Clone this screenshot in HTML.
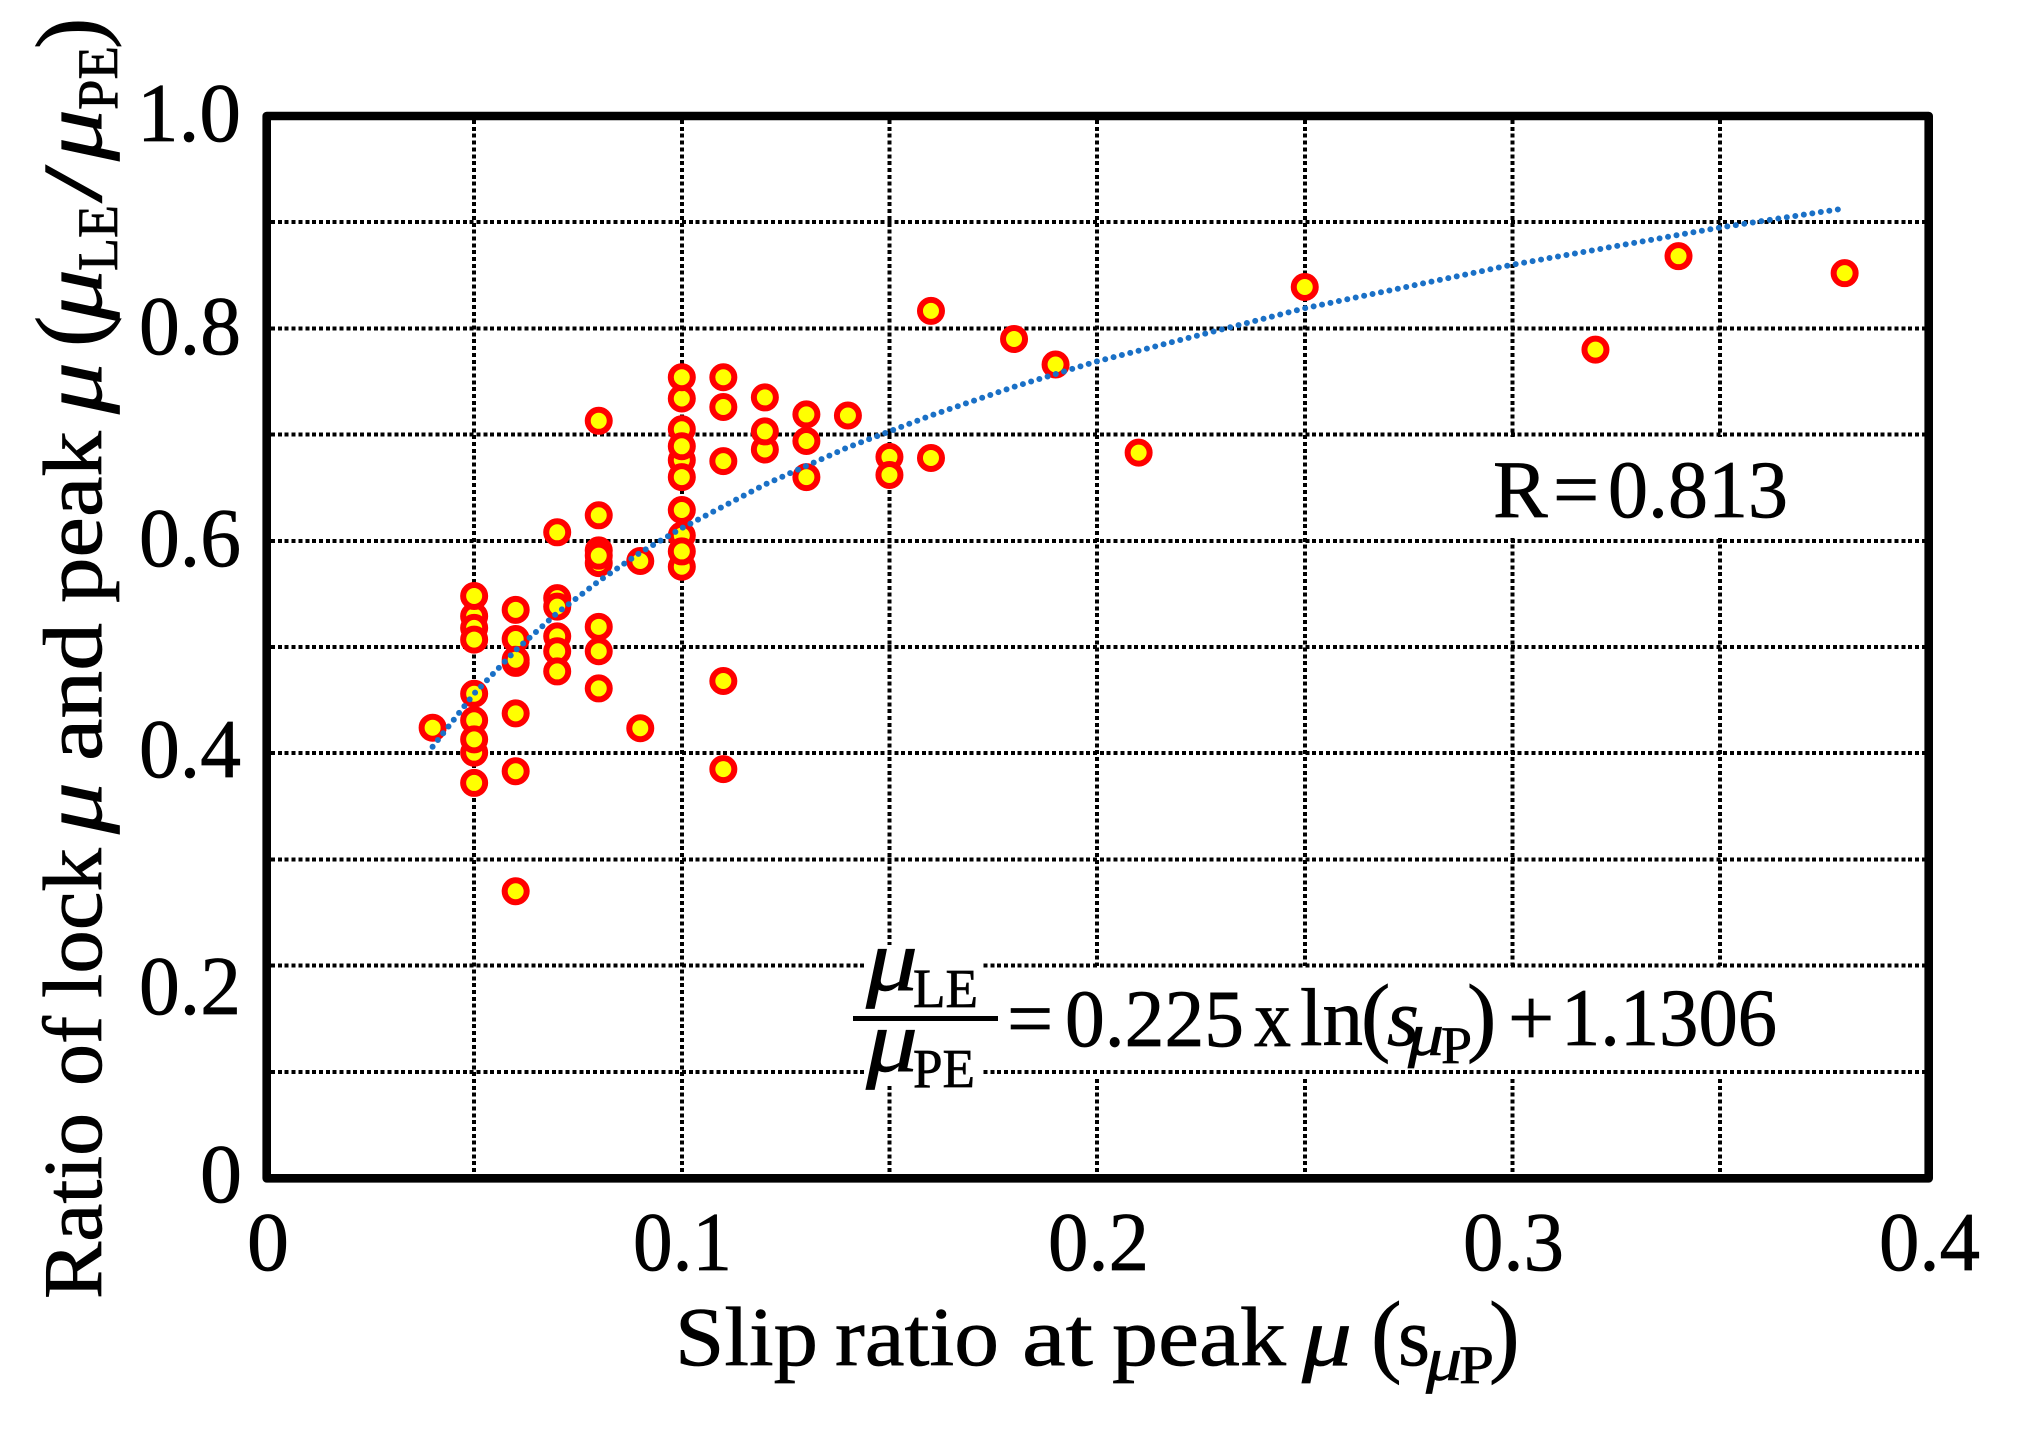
<!DOCTYPE html>
<html lang="en">
<head>
<meta charset="utf-8">
<title>Ratio of lock mu and peak mu vs slip ratio</title>
<style>
html,body{margin:0;padding:0;background:#fff;width:2023px;height:1434px;overflow:hidden}
svg{display:block}
text{font-family:"Liberation Serif",serif;fill:#000;white-space:pre;stroke:#000;stroke-width:0.7}
.i{font-style:italic}
</style>
</head>
<body>
<svg id="chart" xmlns="http://www.w3.org/2000/svg" width="2023" height="1434" viewBox="0 0 2023 1434">
  <rect x="0" y="0" width="2023" height="1434" fill="#fff"/>
  <g id="grid-vertical"></g>
  <rect x="1460" y="437" width="310" height="100" fill="#fff"/>
  <rect x="982" y="966" width="820" height="110" fill="#fff"/>
  <g id="grid-horizontal"></g>
  <rect x="864" y="945" width="118" height="139" fill="#fff"/>
  <g id="points"></g>
  <path id="trend" fill="none" stroke="#1a70c6" stroke-width="6" stroke-linecap="round" stroke-dasharray="0 8.6"/>
  <rect x="266.7" y="116" width="1662" height="1062.3" fill="none" stroke="#000" stroke-width="8.6" stroke-linejoin="round"/>

  <g font-size="84">
    <text x="137" y="141" textLength="104" lengthAdjust="spacingAndGlyphs">1.0</text>
    <text x="139" y="354" textLength="102" lengthAdjust="spacingAndGlyphs">0.8</text>
    <text x="139" y="566" textLength="102" lengthAdjust="spacingAndGlyphs">0.6</text>
    <text x="139" y="777" textLength="102" lengthAdjust="spacingAndGlyphs">0.4</text>
    <text x="139" y="1014" textLength="102" lengthAdjust="spacingAndGlyphs">0.2</text>
    <text x="200" y="1202">0</text>
  </g>
  <g font-size="84">
    <text x="247" y="1270">0</text>
    <text x="633" y="1270" textLength="99" lengthAdjust="spacingAndGlyphs">0.1</text>
    <text x="1048" y="1270" textLength="101" lengthAdjust="spacingAndGlyphs">0.2</text>
    <text x="1463" y="1270" textLength="101" lengthAdjust="spacingAndGlyphs">0.3</text>
    <text x="1879" y="1270" textLength="101" lengthAdjust="spacingAndGlyphs">0.4</text>
  </g>

  <g>
    <text x="675" y="1365" font-size="84" textLength="143" lengthAdjust="spacingAndGlyphs">Slip</text>
    <text x="835" y="1365" font-size="84" textLength="164" lengthAdjust="spacingAndGlyphs">ratio</text>
    <text x="1022" y="1365" font-size="84" textLength="71" lengthAdjust="spacingAndGlyphs">at</text>
    <text x="1112" y="1365" font-size="84" textLength="174" lengthAdjust="spacingAndGlyphs">peak</text>
    <text class="i" x="1302" y="1365" font-size="84" textLength="50" lengthAdjust="spacingAndGlyphs">μ</text>
    <text x="1371" y="1365" font-size="92">(</text>
    <text x="1398" y="1365" font-size="84" textLength="32" lengthAdjust="spacingAndGlyphs">s</text>
    <text class="i" x="1426" y="1380" font-size="62" textLength="36" lengthAdjust="spacingAndGlyphs">μ</text>
    <text x="1459" y="1383" font-size="54" textLength="35" lengthAdjust="spacingAndGlyphs">P</text>
    <text x="1489" y="1365" font-size="92">)</text>
  </g>

  <g>
    <text transform="translate(101,1299) rotate(-90)" font-size="84" textLength="186" lengthAdjust="spacingAndGlyphs">Ratio</text>
    <text transform="translate(101,1086) rotate(-90)" font-size="84" textLength="70" lengthAdjust="spacingAndGlyphs">of</text>
    <text transform="translate(101,998) rotate(-90)" font-size="84" textLength="150" lengthAdjust="spacingAndGlyphs">lock</text>
    <text class="i" transform="translate(101,834) rotate(-90)" font-size="86" textLength="52" lengthAdjust="spacingAndGlyphs">μ</text>
    <text transform="translate(101,761) rotate(-90)" font-size="84" textLength="138" lengthAdjust="spacingAndGlyphs">and</text>
    <text transform="translate(101,603) rotate(-90)" font-size="84" textLength="172" lengthAdjust="spacingAndGlyphs">peak</text>
    <text class="i" transform="translate(101,414) rotate(-90)" font-size="86" textLength="52" lengthAdjust="spacingAndGlyphs">μ</text>
    <text transform="translate(101,347) rotate(-90)" font-size="94">(</text>
    <text class="i" transform="translate(101,321) rotate(-90)" font-size="86" textLength="52" lengthAdjust="spacingAndGlyphs">μ</text>
    <text transform="translate(117,271) rotate(-90)" font-size="57" textLength="66" lengthAdjust="spacingAndGlyphs">LE</text>
    <text transform="translate(101,203) rotate(-90)" font-size="84" textLength="38" lengthAdjust="spacingAndGlyphs">/</text>
    <text class="i" transform="translate(101,161) rotate(-90)" font-size="86" textLength="52" lengthAdjust="spacingAndGlyphs">μ</text>
    <text transform="translate(117,110) rotate(-90)" font-size="57" textLength="64" lengthAdjust="spacingAndGlyphs">PE</text>
    <text transform="translate(101,49) rotate(-90)" font-size="94">)</text>
  </g>

  <text y="517" font-size="82"><tspan x="1493">R</tspan><tspan x="1553">=</tspan><tspan x="1608" textLength="180" lengthAdjust="spacingAndGlyphs">0.813</tspan></text>

  <g>
    <text class="i" x="866" y="990" font-size="88" textLength="52" lengthAdjust="spacingAndGlyphs">μ</text>
    <text x="913" y="1007" font-size="55" textLength="65" lengthAdjust="spacingAndGlyphs">LE</text>
    <rect x="853" y="1016" width="145" height="5" fill="#000"/>
    <text class="i" x="866" y="1071" font-size="88" textLength="52" lengthAdjust="spacingAndGlyphs">μ</text>
    <text x="913" y="1087" font-size="55" textLength="62" lengthAdjust="spacingAndGlyphs">PE</text>
    <text x="1007" y="1046" font-size="82">=</text>
    <text x="1065" y="1046" font-size="82" textLength="179" lengthAdjust="spacingAndGlyphs">0.225</text>
    <text x="1254" y="1046" font-size="82" textLength="37" lengthAdjust="spacingAndGlyphs">x</text>
    <text x="1300" y="1045" font-size="82" textLength="63" lengthAdjust="spacingAndGlyphs">ln</text>
    <text x="1361" y="1045" font-size="88">(</text>
    <text class="i" x="1387" y="1045" font-size="82">s</text>
    <text class="i" x="1408" y="1055" font-size="60" textLength="36" lengthAdjust="spacingAndGlyphs">μ</text>
    <text x="1441" y="1063" font-size="53" textLength="31" lengthAdjust="spacingAndGlyphs">P</text>
    <text x="1467" y="1045" font-size="88">)</text>
    <text x="1508" y="1045" font-size="82">+</text>
    <text x="1561" y="1045" font-size="82" textLength="216" lengthAdjust="spacingAndGlyphs">1.1306</text>
  </g>
</svg>
<script>
// Chart data
const gridXValues = [0.05, 0.1, 0.15, 0.2, 0.25, 0.3, 0.35];
const gridYValues = [0.1, 0.2, 0.3, 0.4, 0.5, 0.6, 0.7, 0.8, 0.9];
const slipRatio = [
  0.04,
  0.05, 0.05, 0.05, 0.05, 0.05, 0.05, 0.05, 0.05, 0.05,
  0.06, 0.06, 0.06, 0.06, 0.06, 0.06, 0.06,
  0.07, 0.07, 0.07, 0.07, 0.07, 0.07,
  0.08, 0.08, 0.08, 0.08, 0.08, 0.08, 0.08, 0.08,
  0.09, 0.09,
  0.1, 0.1, 0.1, 0.1, 0.1, 0.1, 0.1, 0.1, 0.1, 0.1,
  0.11, 0.11, 0.11, 0.11, 0.11,
  0.12, 0.12, 0.12,
  0.13, 0.13, 0.13,
  0.14,
  0.15, 0.15,
  0.16, 0.16,
  0.18, 0.19, 0.21, 0.25, 0.32, 0.34, 0.38
];
const muRatio = [
  0.424,
  0.529, 0.518, 0.507, 0.548, 0.456, 0.4005, 0.431, 0.413, 0.372,
  0.535, 0.5075, 0.485, 0.488, 0.4375, 0.383, 0.270,
  0.608, 0.546, 0.538, 0.510, 0.496, 0.477,
  0.713, 0.624, 0.591, 0.579, 0.586, 0.519, 0.496, 0.461,
  0.581, 0.4235,
  0.734, 0.754, 0.705, 0.676, 0.689, 0.660, 0.629, 0.605, 0.5756, 0.590,
  0.754, 0.726, 0.675, 0.468, 0.385,
  0.735, 0.686, 0.703,
  0.719, 0.694, 0.660,
  0.718,
  0.679, 0.662,
  0.8165, 0.678,
  0.790, 0.766, 0.683, 0.839, 0.780, 0.868, 0.852
];
const trendSlip = [0.04, 0.05, 0.06, 0.07, 0.08, 0.09, 0.1, 0.12, 0.14, 0.16, 0.18, 0.2, 0.25, 0.3, 0.35, 0.38];
const trendMu = [0.406, 0.456, 0.497, 0.532, 0.562, 0.589, 0.612, 0.653, 0.688, 0.718, 0.745, 0.769, 0.819, 0.860, 0.895, 0.913];

// Axis functions
function xScale(v) { return 266.5 + 4153 * v; }
function yScale(v) { return 1178 - 1062 * v; }

const NS = 'http://www.w3.org/2000/svg';
const gridV = document.getElementById('grid-vertical');
const gridH = document.getElementById('grid-horizontal');
const pointsG = document.getElementById('points');

gridXValues.forEach(function (v) {
  const line = document.createElementNS(NS, 'line');
  
  
  line.setAttribute('x1', xScale(v));
  line.setAttribute('x2', xScale(v));
  line.setAttribute('y1', 120);
  line.setAttribute('y2', 1175);
  line.setAttribute('stroke', '#000');
  line.setAttribute('stroke-width', 4);
  line.setAttribute('stroke-dasharray', '4 2.85');
  line.setAttribute('shape-rendering', 'crispEdges');
  gridV.appendChild(line);
});

gridYValues.forEach(function (v) {
  const line = document.createElementNS(NS, 'line');
  
  
  line.setAttribute('x1', 271);
  line.setAttribute('x2', 1925);
  line.setAttribute('y1', yScale(v));
  line.setAttribute('y2', yScale(v));
  line.setAttribute('stroke', '#000');
  line.setAttribute('stroke-width', 4);
  line.setAttribute('stroke-dasharray', '4 2.85');
  line.setAttribute('shape-rendering', 'crispEdges');
  gridH.appendChild(line);
});

slipRatio.forEach(function (s, i) {
  const c = document.createElementNS(NS, 'circle');
  
  
  c.setAttribute('cx', xScale(s));
  c.setAttribute('cy', yScale(muRatio[i]));
  c.setAttribute('r', 11);
  c.setAttribute('fill', '#ffff00');
  c.setAttribute('stroke', '#ff0000');
  c.setAttribute('stroke-width', 6);
  pointsG.appendChild(c);
});

document.getElementById('trend').setAttribute('d', trendSlip.map(function (s, i) {
  return (i ? 'L' : 'M') + xScale(s).toFixed(1) + ' ' + yScale(trendMu[i]).toFixed(1);
}).join(' '));
</script>
</body>
</html>
